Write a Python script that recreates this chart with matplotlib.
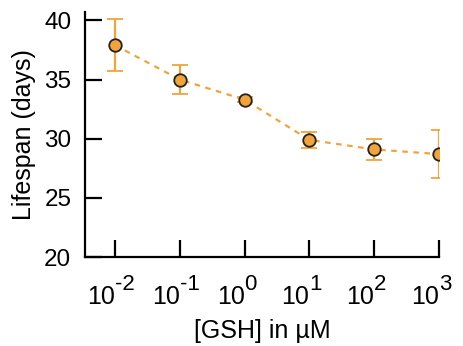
import matplotlib
matplotlib.use('Agg')
import matplotlib.pyplot as plt
import matplotlib.transforms as mtransforms

plt.rcParams['font.family'] = ['Liberation Sans', 'DejaVu Sans']

# данные
gsh = [1e-2, 1e-1, 1e0, 1e1, 1e2, 1e3]
exponents = ['-2', '-1', '0', '1', '2', '3']
lifespan = [37.9, 35.0, 33.3, 29.9, 29.1, 28.7]
err = [2.2, 1.2, 0.2, 0.7, 0.9, 2.0]

orange = '#f2a43a'

fig = plt.figure(figsize=(4.63, 3.46), dpi=100)
ax = fig.add_axes([0.184, 0.257, 0.764, 0.708])

ax.errorbar(gsh, lifespan, yerr=err, fmt='o', color=orange, ecolor=orange,
            elinewidth=1.6, capsize=6, capthick=1.6,
            markerfacecolor=orange, markeredgecolor='#222222',
            markeredgewidth=1.3, markersize=9, zorder=3)
ax.plot(gsh, lifespan, linestyle=(0, (2.5, 2.5)), color=orange, linewidth=1.6, zorder=2)

ax.set_xscale('log')
ax.set_xlim(10 ** -2.46, 1e3)
ax.set_ylim(20, 40.7)
ax.set_xticks(gsh)
ax.set_xticklabels([''] * len(gsh))
ax.minorticks_off()
ax.set_yticks([20, 25, 30, 35, 40])

for s in ['top', 'right']:
    ax.spines[s].set_visible(False)
for s in ['left', 'bottom']:
    ax.spines[s].set_linewidth(1.6)

ax.tick_params(axis='both', direction='in', length=12, width=1.6, pad=10)
ax.tick_params(axis='y', labelsize=17.5)

# подписи 10^n с крупным показателем
trans = mtransforms.blended_transform_factory(ax.transData, fig.transFigure)
for x, e in zip(gsh, exponents):
    ax.text(x, 0.121, '10', transform=trans, ha='right', va='baseline', fontsize=18)
    ax.text(x, 0.162, e, transform=trans, ha='left', va='baseline', fontsize=16)

ax.set_xlabel('[GSH] in µM', fontsize=18)
ax.xaxis.set_label_coords(0.5, -0.331)
ax.xaxis.label.set_va('baseline')
ax.set_ylabel('Lifespan (days)', fontsize=18, labelpad=6)

plt.savefig('out.png', dpi=100)
